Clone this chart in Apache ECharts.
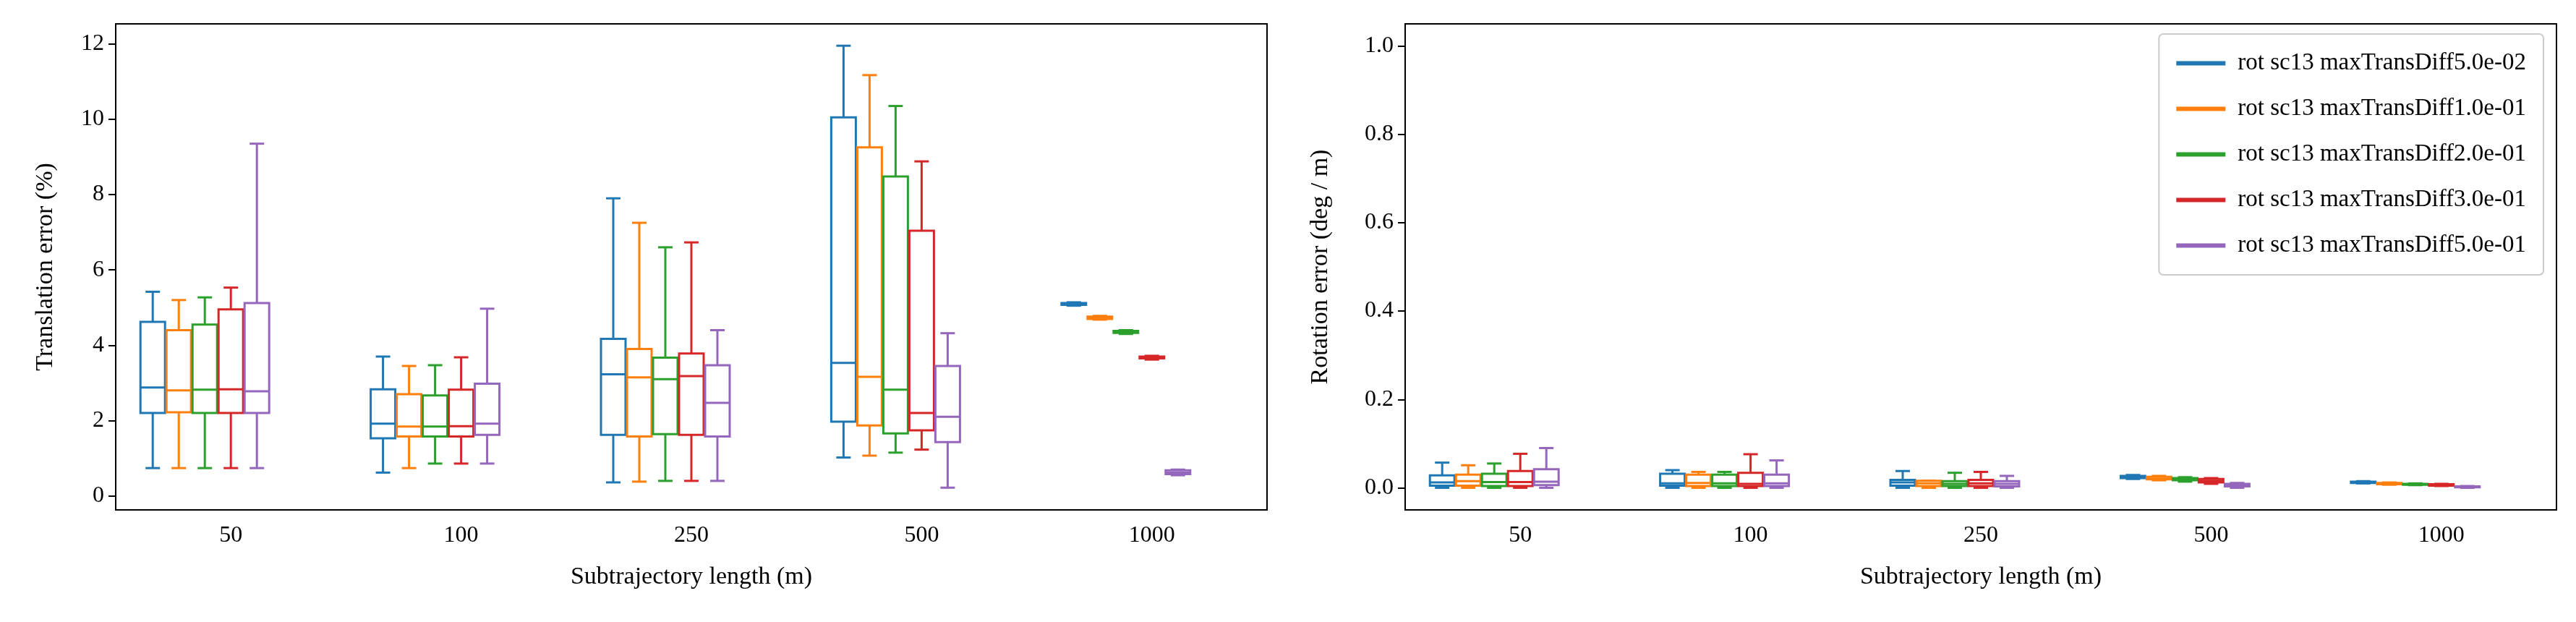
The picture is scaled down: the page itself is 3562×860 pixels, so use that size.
<!DOCTYPE html>
<html><head><meta charset="utf-8">
<script src="https://cdn.jsdelivr.net/npm/echarts@6/dist/echarts.min.js"></script>
<style>html,body{margin:0;background:#fff}#c{width:3562px;height:860px}</style>
</head><body><div id="c"></div>
<script>
var categories = ['50', '100', '250', '500', '1000'];
var seriesNames = ['rot sc13 maxTransDiff5.0e-02', 'rot sc13 maxTransDiff1.0e-01', 'rot sc13 maxTransDiff2.0e-01', 'rot sc13 maxTransDiff3.0e-01', 'rot sc13 maxTransDiff5.0e-01'];
var colors = ['#1f77b4', '#ff7f0e', '#2ca02c', '#d62728', '#9467bd'];
// [low, q1, median, q3, high] per category
var trans = [
  [[0.74,2.2,2.88,4.62,5.42],[0.62,1.53,1.92,2.83,3.7],[0.36,1.62,3.23,4.17,7.9],[1.02,1.97,3.53,10.05,11.95],[5.05,5.07,5.1,5.12,5.14]],
  [[0.74,2.22,2.8,4.4,5.2],[0.74,1.58,1.84,2.7,3.45],[0.38,1.58,3.15,3.9,7.25],[1.07,1.87,3.16,9.25,11.17],[4.68,4.7,4.73,4.76,4.78]],
  [[0.74,2.2,2.82,4.55,5.27],[0.86,1.58,1.84,2.67,3.47],[0.4,1.64,3.1,3.67,6.6],[1.15,1.66,2.82,8.48,10.35],[4.3,4.33,4.36,4.38,4.4]],
  [[0.74,2.2,2.83,4.95,5.53],[0.86,1.58,1.85,2.82,3.68],[0.4,1.62,3.18,3.78,6.73],[1.23,1.74,2.2,7.04,8.88],[3.62,3.65,3.68,3.7,3.72]],
  [[0.74,2.2,2.78,5.12,9.35],[0.86,1.62,1.92,2.98,4.97],[0.4,1.58,2.47,3.47,4.4],[0.22,1.43,2.1,3.45,4.32],[0.55,0.58,0.62,0.68,0.7]]
];
var rot = [
  [[0,0.005,0.012,0.028,0.057],[0,0.005,0.01,0.032,0.04],[0,0.005,0.012,0.018,0.038],[0.02,0.022,0.024,0.027,0.029],[0.01,0.011,0.012,0.014,0.015]],
  [[0,0.005,0.015,0.03,0.051],[0,0.004,0.011,0.03,0.036],[0,0.004,0.01,0.016,0.016],[0.017,0.019,0.021,0.025,0.027],[0.007,0.008,0.009,0.011,0.012]],
  [[0,0.004,0.013,0.032,0.055],[0,0.004,0.01,0.03,0.036],[0,0.004,0.009,0.015,0.034],[0.014,0.017,0.019,0.022,0.024],[0.006,0.007,0.008,0.009,0.01]],
  [[0,0.004,0.013,0.038,0.077],[0,0.004,0.009,0.034,0.076],[0,0.004,0.01,0.018,0.036],[0.009,0.012,0.016,0.02,0.022],[0.004,0.005,0.006,0.008,0.009]],
  [[0,0.006,0.014,0.042,0.09],[0,0.004,0.01,0.03,0.062],[0,0.003,0.009,0.015,0.027],[0,0.003,0.006,0.009,0.011],[0,0.001,0.002,0.003,0.004]]
];
var transTicks = [0, 2, 4, 6, 8, 10, 12];
var rotTicks = [0, 0.2, 0.4, 0.6, 0.8, 1.0];

var font = 'Liberation Serif';
var chart = echarts.init(document.getElementById('c'));

function boxRenderer(si, color) {
  return function (params, api) {
    var cat = api.value(0);
    var cx = api.coord([cat, 0])[0] + (si - 3) * 36;
    var hw = 17, cap = 10;
    var yl = api.coord([cat, api.value(1)])[1];
    var y1 = api.coord([cat, api.value(2)])[1];
    var ym = api.coord([cat, api.value(3)])[1];
    var y3 = api.coord([cat, api.value(4)])[1];
    var yh = api.coord([cat, api.value(5)])[1];
    var st = {stroke: color, lineWidth: 3, fill: null};
    return {type: 'group', children: [
      {type: 'line', shape: {x1: cx, y1: yl, x2: cx, y2: y1}, style: st},
      {type: 'line', shape: {x1: cx, y1: y3, x2: cx, y2: yh}, style: st},
      {type: 'line', shape: {x1: cx - cap, y1: yl, x2: cx + cap, y2: yl}, style: st},
      {type: 'line', shape: {x1: cx - cap, y1: yh, x2: cx + cap, y2: yh}, style: st},
      {type: 'rect', shape: {x: cx - hw, y: y3, width: 2 * hw, height: Math.max(y1 - y3, 0.5)}, style: {stroke: color, lineWidth: 3, fill: '#fff'}},
      {type: 'line', shape: {x1: cx - hw, y1: ym, x2: cx + hw, y2: ym}, style: st}
    ]};
  };
}

function makeSeries(values, gi) {
  return values.map(function (rows, si) {
    return {
      name: seriesNames[si], type: 'custom', xAxisIndex: gi, yAxisIndex: gi,
      color: colors[si], renderItem: boxRenderer(si, colors[si]),
      encode: {x: 0, y: [1, 2, 3, 4, 5]},
      data: rows.map(function (r, ci) { return [ci].concat(r); })
    };
  });
}

function xAxis(gi) {
  return {
    type: 'category', gridIndex: gi, data: categories,
    name: 'Subtrajectory length (m)', nameLocation: 'middle', nameGap: 76,
    nameTextStyle: {fontFamily: font, fontSize: 34, color: '#000'},
    axisLine: {show: false}, axisTick: {alignWithLabel: true, length: 10, lineStyle: {color: '#000', width: 2}},
    axisLabel: {fontFamily: font, fontSize: 32, color: '#000', margin: 20},
    splitLine: {show: false}
  };
}

function yAxis(gi, min, max, ticks, name, fmt) {
  return {
    type: 'value', gridIndex: gi, min: min, max: max,
    name: name, nameLocation: 'middle', nameGap: gi === 0 ? 80 : 100,
    nameTextStyle: {fontFamily: font, fontSize: 34, color: '#000'},
    axisLine: {show: false},
    axisTick: {show: true, length: 10, customValues: ticks, lineStyle: {color: '#000', width: 2}},
    axisLabel: {fontFamily: font, fontSize: 32, color: '#000', margin: 16, customValues: ticks, formatter: fmt},
    splitLine: {show: false}
  };
}

var option = {
  animation: false,
  backgroundColor: '#fff',
  grid: [
    {left: 160, right: 1810, top: 33, bottom: 155, show: true, borderColor: '#000', borderWidth: 2},
    {left: 1943, right: 27, top: 33, bottom: 155, show: true, borderColor: '#000', borderWidth: 2}
  ],
  legend: {
    data: seriesNames, orient: 'vertical', right: 45, top: 47,
    icon: 'rect', itemWidth: 68, itemHeight: 6, itemGap: 30,
    padding: [24, 24, 24, 24], backgroundColor: '#fff',
    borderColor: '#ccc', borderWidth: 2, borderRadius: 6,
    textStyle: {fontFamily: font, fontSize: 33, color: '#000', padding: [0, 0, 0, 12]}
  },
  xAxis: [xAxis(0), xAxis(1)],
  yAxis: [
    yAxis(0, -0.37, 12.53, transTicks, 'Translation error (%)', function (v) { return String(v); }),
    yAxis(1, -0.05, 1.05, rotTicks, 'Rotation error (deg / m)', function (v) { return v.toFixed(1); })
  ],
  series: makeSeries(trans, 0).concat(makeSeries(rot, 1))
};
option && chart.setOption(option);
</script></body></html>
